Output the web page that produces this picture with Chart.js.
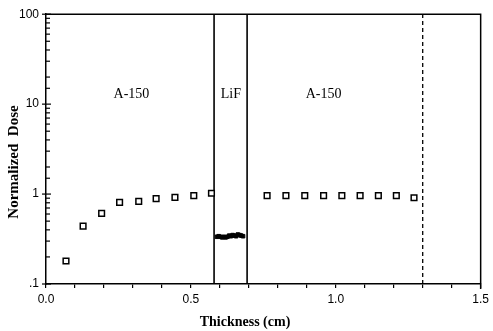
<!DOCTYPE html>
<html>
<head>
<meta charset="utf-8">
<script src="https://cdn.jsdelivr.net/npm/chart.js@4"></script>
<style>
  html, body { margin: 0; padding: 0; background: #fff; }
  #wrap { width: 493px; height: 331px; }
</style>
</head>
<body>
<div id="wrap"><canvas id="doseChart"></canvas></div>
<script>
// A-150 measurements before the LiF layer
const a150LeftX = [0.069, 0.128, 0.192, 0.254, 0.320, 0.380, 0.445, 0.510, 0.571];
const a150LeftY = [0.18, 0.44, 0.61, 0.81, 0.83, 0.89, 0.92, 0.96, 1.02];

// LiF layer readings (dense small dots)
const lifX = [0.590, 0.596, 0.602, 0.608, 0.614, 0.620, 0.626, 0.632, 0.638, 0.644, 0.650, 0.656, 0.662, 0.668, 0.674, 0.680];
const lifY = [0.335, 0.34, 0.335, 0.33, 0.335, 0.33, 0.335, 0.345, 0.34, 0.35, 0.345, 0.34, 0.355, 0.35, 0.345, 0.34];

// A-150 measurements after the LiF layer
const a150RightX = [0.763, 0.828, 0.893, 0.958, 1.021, 1.084, 1.147, 1.209, 1.270];
const a150RightY = [0.96, 0.96, 0.96, 0.96, 0.96, 0.96, 0.96, 0.96, 0.91];

// Layer boundaries
const lifStart = 0.580;
const lifEnd = 0.694;
const backEdge = 1.30;

// Region labels
const regionLabels = ['A-150', 'LiF', 'A-150'];
const regionLabelX = [0.295, 0.638, 0.958];
const regionLabelY = 13.0;

const xTickLabels = ['0.0', '0.5', '1.0', '1.5'];
const yTickLabels = { 0.1: '.1', 1: '1', 10: '10', 100: '100' };

const toPoints = (xs, ys) => xs.map((x, i) => ({ x: x, y: ys[i] }));

// Draws the frame, inward y ticks, region labels and axis titles
const decorPlugin = {
  id: 'decor',
  afterDraw(chart) {
    const ctx = chart.ctx;
    const area = chart.chartArea;
    const xs = chart.scales.x;
    const ys = chart.scales.y;
    ctx.save();
    ctx.strokeStyle = '#000';
    ctx.lineWidth = 1.5;
    // top and right frame
    ctx.beginPath();
    ctx.moveTo(area.left, area.top);
    ctx.lineTo(area.right, area.top);
    ctx.lineTo(area.right, area.bottom + 5);
    ctx.stroke();

    // y ticks (log scale)
    ctx.lineWidth = 1.2;
    ys.ticks.forEach(t => {
      const py = ys.getPixelForValue(t.value);
      const lg = Math.log10(t.value);
      const major = Math.abs(lg - Math.round(lg)) < 1e-6;
      ctx.beginPath();
      if (major) {
        ctx.moveTo(area.left - 4, py);
        ctx.lineTo(area.left + 5, py);
      } else {
        ctx.moveTo(area.left, py);
        ctx.lineTo(area.left + 4, py);
      }
      ctx.stroke();
    });

    // region labels
    ctx.fillStyle = '#000';
    ctx.font = '14px "Liberation Serif", "Times New Roman", serif';
    ctx.textAlign = 'center';
    ctx.textBaseline = 'middle';
    regionLabels.forEach((txt, i) => {
      ctx.fillText(txt, xs.getPixelForValue(regionLabelX[i]), ys.getPixelForValue(regionLabelY));
    });

    // axis titles
    ctx.font = 'bold 14px "Liberation Serif", "Times New Roman", serif';
    ctx.fillText('Thickness (cm)', 245, 322);
    ctx.translate(14, 162);
    ctx.rotate(-Math.PI / 2);
    ctx.font = 'bold 15px "Liberation Serif", "Times New Roman", serif';
    ctx.fillText('Normalized  Dose', 0, 0);
    ctx.restore();
  }
};

const boundaryLine = (x, dash) => ({
  data: [{ x: x, y: 0.1 }, { x: x, y: 100 }],
  showLine: true,
  borderColor: '#000',
  borderWidth: dash ? 1.3 : 1.6,
  borderDash: dash ? [4, 3] : [],
  pointRadius: 0,
  clip: false
});

new Chart(document.getElementById('doseChart').getContext('2d'), {
  type: 'scatter',
  data: {
    datasets: [
      {
        data: toPoints(a150LeftX, a150LeftY),
        pointStyle: 'rect',
        pointRadius: 4,
        pointBorderWidth: 1.5,
        pointBorderColor: '#000',
        pointBackgroundColor: '#fff'
      },
      {
        data: toPoints(a150RightX, a150RightY),
        pointStyle: 'rect',
        pointRadius: 4,
        pointBorderWidth: 1.5,
        pointBorderColor: '#000',
        pointBackgroundColor: '#fff'
      },
      {
        data: toPoints(lifX, lifY),
        pointStyle: 'rect',
        pointRadius: 2.5,
        pointBorderWidth: 1,
        pointBorderColor: '#000',
        pointBackgroundColor: '#000'
      },
      boundaryLine(lifStart, false),
      boundaryLine(lifEnd, false),
      boundaryLine(backEdge, true)
    ]
  },
  options: {
    responsive: true,
    maintainAspectRatio: false,
    animation: false,
    layout: { padding: { top: 13, right: 10, left: 0, bottom: 0 } },
    plugins: {
      legend: { display: false },
      tooltip: { enabled: false }
    },
    scales: {
      x: {
        type: 'linear',
        min: 0,
        max: 1.5,
        afterFit: scale => { scale.height = 47; },
        grid: { drawOnChartArea: false, drawTicks: true, tickLength: 4, color: '#000', lineWidth: 1.2 },
        border: { display: true, color: '#000', width: 1.5 },
        ticks: {
          stepSize: 0.1,
          autoSkip: false,
          maxRotation: 0,
          padding: 4,
          color: '#000',
          font: { family: '"Liberation Sans", Arial, sans-serif', size: 12 },
          callback: value => {
            const idx = Math.round(value * 2);
            return Math.abs(value * 2 - idx) < 1e-6 ? xTickLabels[idx] : '';
          }
        }
      },
      y: {
        type: 'logarithmic',
        min: 0.1,
        max: 100,
        afterFit: scale => { scale.width = 46; },
        grid: { display: false, drawTicks: false },
        border: { display: true, color: '#000', width: 1.5 },
        ticks: {
          autoSkip: false,
          padding: 7,
          color: '#000',
          font: { family: '"Liberation Sans", Arial, sans-serif', size: 12 },
          callback: value => yTickLabels[value] || ''
        }
      }
    }
  },
  plugins: [decorPlugin]
});
</script>
</body>
</html>
